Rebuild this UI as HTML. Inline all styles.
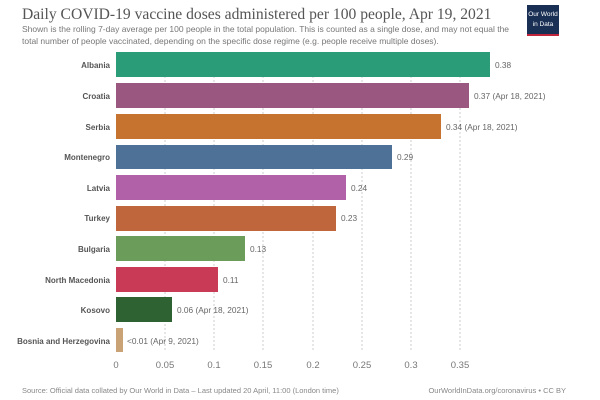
<!DOCTYPE html>
<html><head><meta charset="utf-8"><style>
body{margin:0;background:#fff;width:600px;height:400px;overflow:hidden}
svg{display:block;font-family:"Liberation Sans",sans-serif}
</style></head><body>
<svg width="600" height="400" viewBox="0 0 600 400">
<text x="22" y="19" font-family="Liberation Serif,serif" font-size="15.6" fill="#555">Daily COVID-19 vaccine doses administered per 100 people, Apr 19, 2021</text>
<text x="22" y="32" font-size="8.5" fill="#777">Shown is the rolling 7-day average per 100 people in the total population. This is counted as a single dose, and may not equal the</text>
<text x="22" y="44" font-size="8.5" fill="#777">total number of people vaccinated, depending on the specific dose regime (e.g. people receive multiple doses).</text>
<rect x="527" y="5" width="32" height="31" fill="#1a2f54"/>
<rect x="527" y="34" width="32" height="2" fill="#c0243a"/>
<text x="543" y="16" font-size="6.5" fill="#fff" text-anchor="middle">Our World</text>
<text x="543" y="26" font-size="6.5" fill="#fff" text-anchor="middle">in Data</text>
<g stroke="#ccc" stroke-dasharray="2,2" stroke-width="1">
<line x1="165" y1="52" x2="165" y2="352"/><line x1="214" y1="52" x2="214" y2="352"/>
<line x1="263" y1="52" x2="263" y2="352"/><line x1="313" y1="52" x2="313" y2="352"/>
<line x1="362" y1="52" x2="362" y2="352"/><line x1="411" y1="52" x2="411" y2="352"/>
<line x1="460" y1="52" x2="460" y2="352"/>
</g>
<g font-size="8" font-weight="bold" fill="#555" text-anchor="end">
<text x="110" y="68">Albania</text><text x="110" y="99">Croatia</text><text x="110" y="130">Serbia</text>
<text x="110" y="160">Montenegro</text><text x="110" y="191">Latvia</text><text x="110" y="221">Turkey</text>
<text x="110" y="252">Bulgaria</text><text x="110" y="283">North Macedonia</text><text x="110" y="313">Kosovo</text>
<text x="110" y="344">Bosnia and Herzegovina</text>
</g>
<rect x="116" y="52" width="374" height="25" fill="#2a9d78"/>
<rect x="116" y="83" width="353" height="25" fill="#9a5780"/>
<rect x="116" y="114" width="325" height="25" fill="#c5732f"/>
<rect x="116" y="145" width="276" height="24" fill="#4e7198"/>
<rect x="116" y="175" width="230" height="25" fill="#b061a7"/>
<rect x="116" y="206" width="220" height="25" fill="#c0663c"/>
<rect x="116" y="236" width="129" height="25" fill="#6c9c5a"/>
<rect x="116" y="267" width="102" height="25" fill="#c93a57"/>
<rect x="116" y="297" width="56" height="25" fill="#2f6233"/>
<rect x="116" y="328" width="7" height="24" fill="#c9a275"/>
<g font-size="8.3" fill="#666">
<text x="495" y="68">0.38</text><text x="474" y="99">0.37 (Apr 18, 2021)</text>
<text x="446" y="130">0.34 (Apr 18, 2021)</text><text x="397" y="160">0.29</text>
<text x="351" y="191">0.24</text><text x="341" y="221">0.23</text>
<text x="250" y="252">0.13</text><text x="223" y="283">0.11</text>
<text x="177" y="313">0.06 (Apr 18, 2021)</text><text x="127" y="344">&lt;0.01 (Apr 9, 2021)</text>
</g>
<g font-size="9.5" fill="#777" text-anchor="middle">
<text x="116" y="368">0</text><text x="165" y="368">0.05</text><text x="214" y="368">0.1</text>
<text x="263" y="368">0.15</text><text x="313" y="368">0.2</text><text x="362" y="368">0.25</text>
<text x="411" y="368">0.3</text><text x="460" y="368">0.35</text>
</g>
<text x="22" y="393" font-size="7.5" fill="#888">Source: Official data collated by Our World in Data – Last updated 20 April, 11:00 (London time)</text>
<text x="566" y="393" font-size="7.5" fill="#888" text-anchor="end">OurWorldInData.org/coronavirus • CC BY</text>
</svg>
</body></html>
